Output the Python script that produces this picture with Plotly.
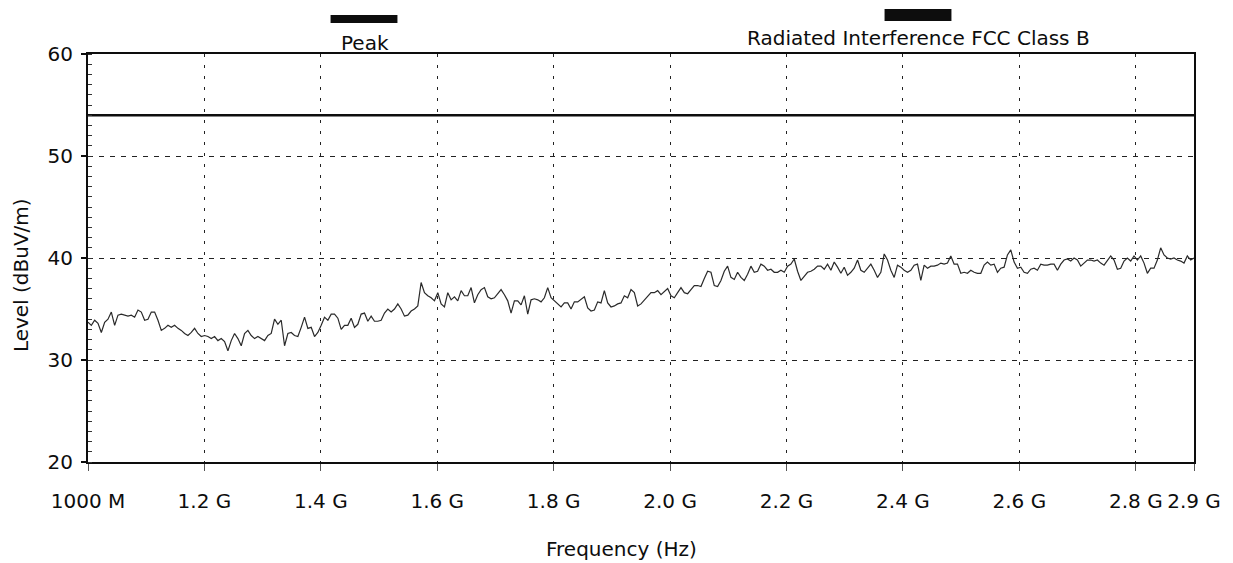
import numpy as np
import plotly.graph_objects as go

# Sweep settings (MHz)
sweep_start_mhz = 1000
sweep_stop_mhz = 2900

# Peak detector readings, dBuV/m, one per sweep point
peak_level = [
    # 1000 - 1420 MHz
    33.7, 33.4, 33.9, 33.6, 32.7, 33.7, 34.0, 34.7, 33.4, 34.4,
    34.5, 34.4, 34.3, 34.4, 34.2, 34.9, 34.7, 33.9, 34.0, 34.7,
    34.7, 33.9, 32.9, 33.1, 33.4, 33.2, 33.4, 33.1, 32.9, 32.6,
    32.4, 32.7, 33.1, 32.6, 32.3, 32.4, 32.3, 32.1, 32.3, 31.9,
    32.1, 31.8, 30.9, 31.9, 32.6, 32.1, 31.4, 32.6, 32.9, 32.4,
    32.1, 32.3, 32.1, 31.9, 32.4, 32.6, 34.0, 33.5, 33.9, 31.4,
    32.6, 32.7, 32.4, 32.3, 33.2, 34.2, 33.1, 33.2, 32.3, 32.7,
    33.4, 34.2, 33.9, 34.5,
    # 1420 - 1830 MHz
    34.5, 34.1, 33.0, 33.4, 33.4, 34.1, 33.2, 33.5, 34.5, 34.6,
    33.8, 34.3, 33.8, 33.8, 33.9, 34.6, 35.0, 34.7, 35.0, 35.5,
    35.0, 34.3, 34.4, 34.8, 35.0, 35.3, 37.6, 36.6, 36.3, 36.1,
    35.8, 36.6, 35.5, 35.2, 36.6, 35.9, 36.2, 35.8, 36.8, 36.3,
    36.3, 37.1, 35.6, 36.4, 36.9, 37.1, 36.2, 36.0, 36.1, 36.5,
    36.9, 36.4, 35.8, 34.6, 35.8, 35.8, 35.4, 36.3, 34.5, 35.9,
    36.0, 35.9, 35.7, 36.1, 37.1, 36.1, 35.8, 35.5, 35.2, 35.6,
    35.6, 35.0,
    # 1830 - 2250 MHz
    35.7, 35.7, 36.0, 36.2, 35.1, 34.8, 34.9, 35.7, 35.6, 36.8,
    35.6, 35.2, 35.3, 35.5, 35.6, 36.3, 36.1, 36.9, 36.6, 35.3,
    35.5, 35.9, 36.3, 36.6, 36.6, 36.8, 36.4, 36.7, 37.0, 36.3,
    36.1, 36.6, 37.1, 36.6, 36.5, 36.9, 37.3, 37.3, 37.2, 38.0,
    38.7, 38.6, 37.3, 37.2, 37.8, 38.7, 39.2, 38.1, 37.9, 38.6,
    38.1, 37.8, 38.4, 39.2, 38.6, 38.7, 39.4, 39.2, 38.8, 38.9,
    38.6, 38.6, 38.8, 38.6, 39.2, 39.4, 39.9, 38.7, 37.8, 38.2,
    38.6, 38.7, 38.9, 39.2,
    # 2250 - 2680 MHz
    39.2, 38.9, 39.4, 38.8, 39.6, 39.1, 38.5, 39.1, 38.3, 38.6,
    39.0, 39.8, 38.8, 38.6, 39.0, 39.4, 38.8, 38.1, 38.6, 40.4,
    39.8, 38.8, 38.1, 39.3, 39.1, 38.8, 38.6, 38.8, 39.3, 39.4,
    37.8, 39.3, 39.0, 39.2, 39.2, 39.3, 39.5, 39.4, 39.5, 40.2,
    39.4, 39.4, 38.5, 38.6, 38.5, 38.8, 38.6, 38.5, 38.5, 39.3,
    39.6, 39.3, 39.4, 38.6, 39.0, 39.1, 40.3, 40.8, 39.6, 39.0,
    39.1, 38.6, 38.5, 38.9, 39.0, 38.8, 39.4, 39.3, 39.3, 39.4,
    39.4, 38.8, 39.4, 39.8, 39.9,
    # 2680 - 2900 MHz
    39.7, 40.0, 39.8, 39.2, 39.5, 39.8, 39.8, 39.7, 39.8, 39.5,
    39.3, 39.7, 40.2, 39.8, 38.9, 39.0, 39.7, 40.0, 39.7, 40.2,
    39.8, 40.2, 39.5, 38.5, 39.0, 39.0, 39.8, 41.0, 40.3, 40.0,
    39.9, 40.0, 39.8, 39.7, 39.5, 40.2, 39.8, 40.0,
]
peak_freq = np.linspace(sweep_start_mhz, sweep_stop_mhz, len(peak_level))

# FCC Class B radiated limit above 1 GHz
limit_freq = [1000, 2900]
limit_level = [54, 54]

# Axis ticks
x_tickvals = [1000, 1200, 1400, 1600, 1800, 2000, 2200, 2400, 2600, 2800, 2900]
x_ticktext = ["1000 M", "1.2 G", "1.4 G", "1.6 G", "1.8 G", "2.0 G",
              "2.2 G", "2.4 G", "2.6 G", "2.8 G", "2.9 G"]
y_tickvals = [20, 30, 40, 50, 60]

FONT = "DejaVu Sans"
INK = "#0d0d0d"
FS = 20

fig = go.Figure()
fig.add_trace(go.Scatter(x=limit_freq, y=limit_level, mode="lines",
                         line=dict(color=INK, width=2.6), hoverinfo="skip"))
fig.add_trace(go.Scatter(x=peak_freq, y=peak_level, mode="lines",
                         line=dict(color="#2a2a2a", width=1.2)))

W, H = 1233, 563
L, R, T, B = 88, 37, 54, 101
pw, ph = W - L - R, H - T - B


def px(x):
    return (x - L) / pw


def py(y):
    return (H - B - y) / ph


# Legend bars above the plot
fig.add_shape(type="rect", xref="paper", yref="paper",
              x0=px(331), x1=px(398), y0=py(23), y1=py(15),
              fillcolor=INK, line=dict(width=0))
fig.add_shape(type="rect", xref="paper", yref="paper",
              x0=px(886), x1=px(953), y0=py(21), y1=py(9),
              fillcolor=INK, line=dict(width=0))

fig.add_annotation(text="Peak", xref="paper", yref="paper",
                   x=px(365), y=py(43), showarrow=False,
                   xanchor="center", yanchor="middle",
                   font=dict(family=FONT, size=FS, color=INK))
fig.add_annotation(text="Radiated Interference FCC Class B", xref="paper", yref="paper",
                   x=px(920), y=py(38), showarrow=False,
                   xanchor="center", yanchor="middle",
                   font=dict(family=FONT, size=FS, color=INK))
fig.add_annotation(text="Frequency (Hz)", xref="paper", yref="paper",
                   x=px(622), y=py(549), showarrow=False,
                   xanchor="center", yanchor="middle",
                   font=dict(family=FONT, size=FS, color=INK))
fig.add_annotation(text="Level (dBuV/m)", xref="paper", yref="paper",
                   x=px(21), y=py(275), showarrow=False, textangle=-90,
                   xanchor="center", yanchor="middle",
                   font=dict(family=FONT, size=FS, color=INK))

fig.update_layout(
    width=W, height=H,
    margin=dict(l=L, r=R, t=T, b=B, pad=0),
    paper_bgcolor="white", plot_bgcolor="white",
    showlegend=False,
    font=dict(family=FONT, size=FS, color=INK),
)

fig.update_xaxes(
    range=[sweep_start_mhz, sweep_stop_mhz],
    tickmode="array", tickvals=x_tickvals, ticktext=x_ticktext,
    showline=True, linecolor=INK, linewidth=2, mirror=True,
    showgrid=True, gridcolor="#222222", gridwidth=1.4, griddash="3px,8px",
    ticks="outside", ticklen=7, tickwidth=1, tickcolor="#555555",
    ticklabelstandoff=13,
    zeroline=False,
    tickfont=dict(family=FONT, size=FS, color=INK),
)
fig.update_yaxes(
    range=[20, 60],
    tickmode="array", tickvals=y_tickvals,
    showline=True, linecolor=INK, linewidth=2, mirror=True,
    showgrid=True, gridcolor="#222222", gridwidth=1.4, griddash="5px,6px",
    ticks="outside", ticklen=5, tickwidth=1.5, tickcolor=INK,
    minor=dict(dtick=1, ticks="inside", ticklen=4, tickwidth=1, tickcolor="#333333",
               showgrid=False),
    ticklabelstandoff=4,
    zeroline=False,
    tickfont=dict(family=FONT, size=FS, color=INK),
)

fig.write_html("out.html")
